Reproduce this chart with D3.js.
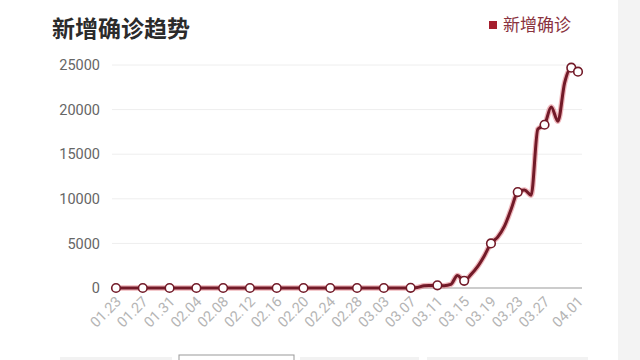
<!DOCTYPE html>
<html><head><meta charset="utf-8">
<script src="https://cdn.jsdelivr.net/npm/d3@7"></script>
<style>body{margin:0;background:#fff;}svg{display:block;font-family:"Noto Sans CJK SC","Noto Sans",sans-serif;}</style>
</head><body><svg id="c" width="640" height="360"></svg>
<script>
const title = "新增确诊趋势";
const seriesName = "新增确诊";
const startDate = "2020-01-23";
const values = [
  0,0,0,0,0,0,0,0,0,0,
  0,0,0,0,0,0,0,0,0,0,
  0,0,0,0,0,0,0,0,0,0,
  0,0,0,0,0,0,0,0,0,0,
  0,0,0,0,20,60,250,280,300,260,
  400,1400,800,1500,2400,3600,5000,5700,6900,8800,
  10750,11000,10400,17800,18300,20300,18700,23000,24700,24250
];
const yTicks = [0,5000,10000,15000,20000,25000];
const tickLabels = ["01.23","01.27","01.31","02.04","02.08","02.12","02.16","02.20","02.24","02.28","03.03","03.07","03.11","03.15","03.19","03.23","03.27","04.01"];

const fmt = d3.timeFormat("%m.%d");
const t0 = d3.timeParse("%Y-%m-%d")(startDate);
const dates = values.map((v,i)=>fmt(d3.timeDay.offset(t0,i)));
const data = values.map((v,i)=>({d:dates[i],v:v,i:i}));

const svg = d3.select("#c");
svg.append("rect").attr("x",618).attr("y",0).attr("width",22).attr("height",360).attr("fill","#f3f3f3");

svg.append("text").attr("x",52).attr("y",37).attr("font-size",23).attr("font-weight","bold").attr("fill","#2b2b2b").text(title);
svg.append("rect").attr("x",489).attr("y",21).attr("width",8).attr("height",8).attr("fill","#a51f2e");
svg.append("text").attr("x",503).attr("y",31).attr("font-size",17).attr("fill","#8a3340").text(seriesName);

const x = d3.scalePoint().domain(dates).range([116,578]);
const y = d3.scaleLinear().domain([0,25000]).range([288,65]);

svg.append("g").selectAll("line").data(yTicks).join("line")
 .attr("x1",112).attr("x2",582).attr("y1",d=>y(d)).attr("y2",d=>y(d))
 .attr("stroke",d=>d===0?"#999":"#eeeeee").attr("stroke-width",1);

const yAxis = d3.axisLeft(y).tickValues(yTicks).tickSize(0).tickPadding(0).tickFormat(d3.format("d"));
const ya = svg.append("g").attr("transform","translate(100,0)").call(yAxis);
ya.select(".domain").remove();
ya.selectAll("text").attr("font-size",14.5).attr("fill","#666").attr("font-family","Roboto, 'Noto Sans', sans-serif");

const xAxis = d3.axisBottom(x).tickValues(tickLabels).tickSize(0).tickPadding(0);
const xa = svg.append("g").attr("transform","translate(0,296)").call(xAxis);
xa.select(".domain").remove();
xa.selectAll("text").attr("font-size",14.5).attr("fill","#b5b5b5").attr("font-family","Roboto, 'Noto Sans', sans-serif")
  .attr("text-anchor","end").attr("x",0).attr("y",0).attr("dy","0.35em").attr("transform","translate(2,3) rotate(-45)");

const line = d3.line().x(d=>x(d.d)).y(d=>y(d.v)).curve(d3.curveMonotoneX);
svg.append("path").datum(data).attr("d",line).attr("fill","none").attr("stroke","#e0707a").attr("stroke-opacity",0.5).attr("stroke-width",5.5).attr("stroke-linejoin","round");
svg.append("path").datum(data).attr("d",line).attr("fill","none").attr("stroke","#721a28").attr("stroke-width",3).attr("stroke-linejoin","round");

const marked = data.filter(d=>d.i%4===0 || d.i===data.length-1);
svg.selectAll("circle.m").data(marked).join("circle")
 .attr("cx",d=>x(d.d)).attr("cy",d=>y(d.v)).attr("r",4.3)
 .attr("fill","#fff").attr("stroke","#721a28").attr("stroke-width",1.6);

const tabs = [[60,172,"#f2f2f2",null],[179,294,"#ffffff","#999"],[300,419,"#f2f2f2",null],[427,588,"#f2f2f2",null]];
svg.selectAll("rect.tab").data(tabs).join("rect")
 .attr("x",d=>d[0]).attr("y",d=>d[3]?355:357).attr("width",d=>d[1]-d[0]).attr("height",10)
 .attr("fill",d=>d[2]).attr("stroke",d=>d[3]||"none");
</script></body></html>
